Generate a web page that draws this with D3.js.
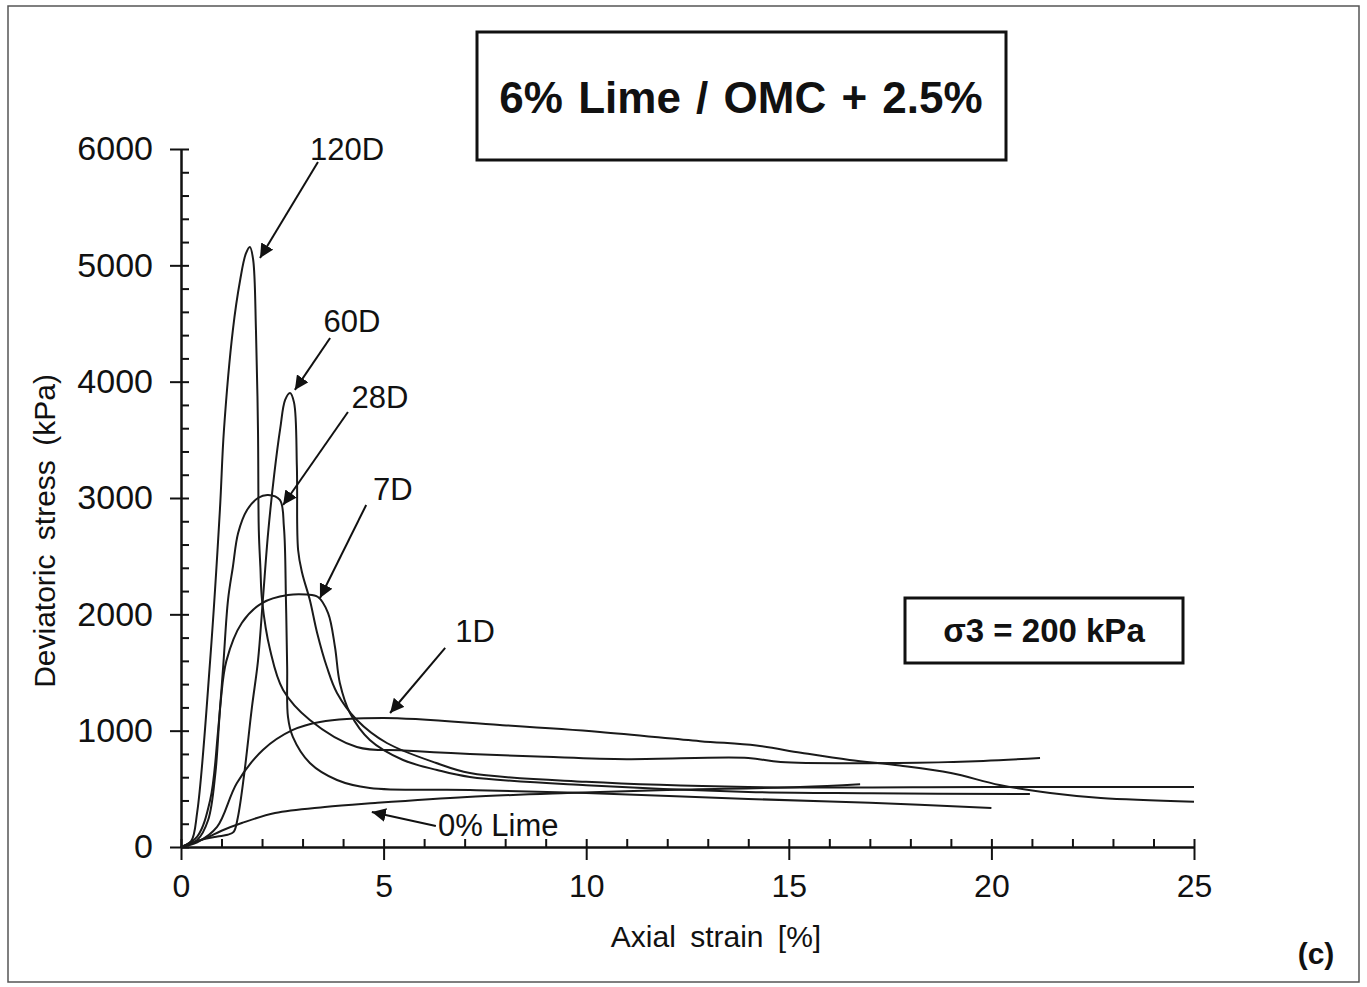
<!DOCTYPE html>
<html>
<head>
<meta charset="utf-8">
<script src="https://cdn.jsdelivr.net/npm/d3@7"></script>
<style>
  body { margin: 0; background: #fff; }
  svg { display: block; font-family: "Liberation Sans", Arial, sans-serif; }
</style>
</head>
<body>
<svg></svg>
<script>
// ---- DATA (axial strain %, deviatoric stress kPa) ----
const lime0 = [[0,0],[0.3,35],[0.67,86],[1.0,140],[1.5,206],[2.32,292],[3.55,344],[4.79,378],[7.06,430],[9.53,464],[12,490],[15.28,516],[16.76,540]];
const d1 = [[0,0],[0.4,40],[0.89,172],[1.38,550],[2.02,834],[2.76,1006],[3.43,1075],[4.99,1109],[7.87,1049],[10.34,989],[12.81,910],[14.2,872],[15.3,810],[16.5,748],[17.74,700],[19,636],[20.2,533],[21.45,464],[22.7,421],[25,390]];
const d7 = [[0,0],[0.4,60],[0.67,232],[0.85,640],[0.98,1250],[1.12,1600],[1.5,1926],[2.0,2097],[2.64,2166],[3.1,2170],[3.38,2149],[3.63,2011],[3.8,1719],[3.92,1410],[4.17,1152],[4.66,920],[5.48,748],[6.32,662],[7.13,602],[10,530],[14,473],[17,462],[20.95,455]];
const d28 = [[0,0],[0.4,90],[0.72,404],[0.91,980],[1.04,1547],[1.16,2123],[1.28,2407],[1.41,2699],[1.63,2897],[1.9,3000],[2.15,3026],[2.44,2983],[2.54,2750],[2.59,2123],[2.62,1547],[2.64,1118],[2.76,946],[3.18,722],[3.85,576],[4.66,507],[7.13,490],[10,465],[14,413],[17,380],[20,335]];
const d60 = [[0,0],[0.3,40],[0.6,70],[0.9,90],[1.15,105],[1.3,130],[1.4,250],[1.55,600],[1.75,1200],[1.9,1600],[2.02,2123],[2.15,2700],[2.3,3200],[2.45,3600],[2.57,3843],[2.69,3903],[2.79,3820],[2.86,3266],[2.89,2553],[2.99,2355],[3.18,2123],[3.36,1840],[3.6,1547],[3.85,1324],[4.34,1092],[5.08,894],[6.3,722],[7.13,636],[10,560],[14,516],[20,515],[25,515]];
const d120 = [[0,0],[0.25,50],[0.4,300],[0.72,1607],[0.96,2897],[1.06,3585],[1.28,4444],[1.46,4874],[1.6,5100],[1.7,5158],[1.78,5050],[1.85,4444],[1.9,3585],[1.92,2725],[1.96,2400],[2.0,2123],[2.2,1693],[2.52,1350],[3.18,1092],[4.34,860],[5.5,830],[7.13,800],[9,775],[11,755],[14,765],[14.8,730],[17.7,722],[19.8,740],[21.2,765]];

const series = [lime0, d1, d7, d28, d60, d120];

const xTicks = [0, 5, 10, 15, 20, 25];
const yTicks = [0, 1000, 2000, 3000, 4000, 5000, 6000];

// label text, arrow tail, arrow tip, text anchor point (all in data units)
const labels = ["120D", "60D", "28D", "7D", "1D", "0% Lime"];
const arrowTail = [[3.38,5889],[3.68,4375],[4.12,3739],[4.57,2940],[6.52,1711],[6.29,181]];
const arrowTip = [[1.95,5063],[2.81,3929],[2.52,2940],[3.43,2140],[5.16,1152],[4.71,301]];
const labelAt = [[4.10,5906],[4.22,4427],[4.91,3774],[5.23,2983],[7.26,1762],[6.34,95]];

// ---- LAYOUT ----
const W = 1367, H = 987;
const svg = d3.select("svg").attr("width", W).attr("height", H);

svg.append("rect").attr("x", 8).attr("y", 6).attr("width", W - 16).attr("height", H - 11)
  .attr("fill", "#fff").attr("stroke", "#555").attr("stroke-width", 1.5);

const x = d3.scaleLinear().domain([0, 25]).range([181, 1194]);
const y = d3.scaleLinear().domain([0, 6000]).range([847, 149]);

// ---- AXES ----
const axisStyle = g => {
  g.select(".domain").attr("stroke", "#111").attr("stroke-width", 2);
  g.selectAll(".tick line").attr("stroke", "#111").attr("stroke-width", 2);
};

// minor ticks (inside)
svg.append("g").attr("transform", `translate(0,${y(0)})`)
  .call(d3.axisBottom(x).tickValues(d3.range(0, 26, 1)).tickSize(-8).tickFormat("").tickSizeOuter(0))
  .call(axisStyle);
svg.append("g").attr("transform", `translate(${x(0)},0)`)
  .call(d3.axisLeft(y).tickValues(d3.range(0, 6001, 200)).tickSize(-8).tickFormat("").tickSizeOuter(0))
  .call(axisStyle);

// major ticks (cross the axis)
svg.append("g").attr("transform", `translate(0,${y(0)})`)
  .call(d3.axisBottom(x).tickValues(xTicks).tickFormat(d3.format("d")).tickSize(13).tickSizeOuter(0).tickPadding(14))
  .call(axisStyle)
  .call(g => g.selectAll(".tick text").attr("font-size", 32).attr("fill", "#111"));
svg.append("g").attr("transform", `translate(${x(0)},0)`)
  .call(d3.axisLeft(y).tickValues(yTicks).tickFormat(d3.format("d")).tickSize(11).tickSizeOuter(0).tickPadding(17))
  .call(axisStyle)
  .call(g => g.selectAll(".tick text").attr("font-size", 34).attr("fill", "#111"));

svg.append("text").attr("x", 716).attr("y", 947).attr("text-anchor", "middle")
  .attr("font-size", 30).attr("word-spacing", 6).attr("fill", "#111").text("Axial strain [%]");

svg.append("text").attr("transform", "translate(55,531) rotate(-90)").attr("text-anchor", "middle")
  .attr("font-size", 30).attr("word-spacing", 6).attr("fill", "#111").text("Deviatoric stress (kPa)");

// ---- CURVES ----
const line = d3.line()
  .x(d => x(d[0]))
  .y(d => y(d[1]))
  .curve(d3.curveCatmullRom.alpha(0.5));

svg.append("g").selectAll("path").data(series).join("path")
  .attr("d", line)
  .attr("fill", "none")
  .attr("stroke", "#1a1a1a")
  .attr("stroke-width", 2);

// ---- ANNOTATIONS ----
svg.append("defs").append("marker")
  .attr("id", "arrow").attr("viewBox", "0 0 10 10").attr("refX", 10).attr("refY", 5)
  .attr("markerWidth", 14).attr("markerHeight", 14).attr("markerUnits", "userSpaceOnUse")
  .attr("orient", "auto")
  .append("path").attr("d", "M0,0 L10,5 L0,10 z").attr("fill", "#111");

const ann = svg.append("g");
labels.forEach((t, i) => {
  ann.append("line")
    .attr("x1", x(arrowTail[i][0])).attr("y1", y(arrowTail[i][1]))
    .attr("x2", x(arrowTip[i][0])).attr("y2", y(arrowTip[i][1]))
    .attr("stroke", "#111").attr("stroke-width", 2).attr("marker-end", "url(#arrow)");
  ann.append("text")
    .attr("x", x(labelAt[i][0])).attr("y", y(labelAt[i][1]))
    .attr("text-anchor", i === 5 ? "start" : "middle")
    .attr("font-size", 31).attr("fill", "#111").text(t);
});

// ---- BOXES ----
svg.append("rect").attr("x", 477).attr("y", 32).attr("width", 529).attr("height", 128)
  .attr("fill", "#fff").attr("stroke", "#111").attr("stroke-width", 3);
svg.append("text").attr("x", 741).attr("y", 113).attr("text-anchor", "middle")
  .attr("font-size", 44).attr("font-weight", "bold").attr("word-spacing", 3).attr("fill", "#111")
  .text("6% Lime / OMC + 2.5%");

svg.append("rect").attr("x", 905).attr("y", 598).attr("width", 278).attr("height", 65)
  .attr("fill", "#fff").attr("stroke", "#111").attr("stroke-width", 3);
svg.append("text").attr("x", 1044).attr("y", 642).attr("text-anchor", "middle")
  .attr("font-size", 33).attr("font-weight", "bold").attr("fill", "#111")
  .text("σ3 = 200 kPa");

svg.append("text").attr("x", 1316).attr("y", 964).attr("text-anchor", "middle")
  .attr("font-size", 30).attr("font-weight", "bold").attr("fill", "#111").text("(c)");
</script>
</body>
</html>
